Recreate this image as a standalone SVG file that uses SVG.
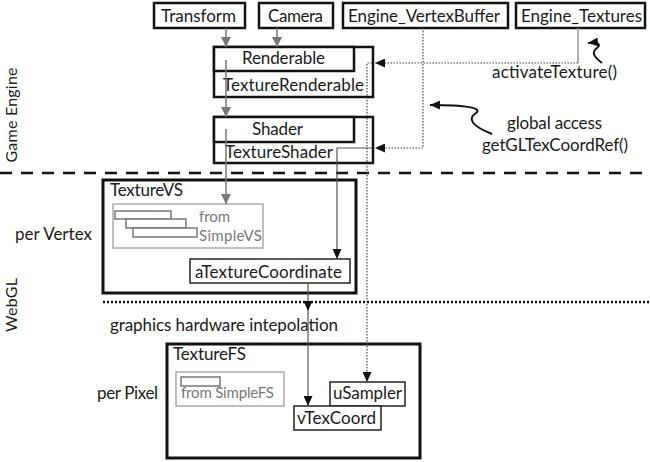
<svg xmlns="http://www.w3.org/2000/svg" width="650" height="462" viewBox="0 0 650 462">
<defs>
<style>
text{font-family:Lato,"Open Sans","Liberation Sans",sans-serif;font-size:17px;fill:#1a1a1a}
.g{fill:#777;font-size:15px}
.v{font-size:16px}
.box{fill:#fff;stroke:#111;stroke-width:2.5}
.thin{fill:#fff;stroke:#222;stroke-width:1.5}
.gbox{fill:none;stroke:#aaa;stroke-width:1.5}
.gsm{fill:#fff;stroke:#777;stroke-width:1.5}
.ga{fill:none;stroke:#777;stroke-width:1.5}
.dot{fill:none;stroke:#444;stroke-width:1.2;stroke-dasharray:1.5 1.5}
.sl{fill:none;stroke:#555;stroke-width:1.2}
.sq{fill:none;stroke:#111;stroke-width:2}
</style>
<marker id="ag" markerUnits="userSpaceOnUse" markerWidth="10" markerHeight="10" viewBox="0 0 10 10" refX="10" refY="5" orient="auto"><path d="M0 0L10 5L0 10z" fill="#777"/></marker>
<marker id="ab" markerUnits="userSpaceOnUse" markerWidth="10" markerHeight="9" viewBox="0 0 10 9" refX="10" refY="4.5" orient="auto"><path d="M0 0L10 4.5L0 9z" fill="#111"/></marker>
</defs>
<rect width="650" height="462" fill="#fff"/>

<g id="section-labels">
<text class="v" transform="translate(17,115) rotate(-90)" text-anchor="middle" textLength="95">Game Engine</text>
<text class="v" transform="translate(17,305) rotate(-90)" text-anchor="middle" textLength="54">WebGL</text>
<text x="15" y="240" textLength="77">per Vertex</text>
<text x="97" y="399" textLength="61">per Pixel</text>
<text x="110" y="331" textLength="228">graphics hardware intepolation</text>
<path d="M0 173H650" fill="none" stroke="#111" stroke-width="2.5" stroke-dasharray="12 9"/>
<path d="M103 302H650" fill="none" stroke="#111" stroke-width="2.5" stroke-dasharray="2 2"/>
</g>

<g id="transform"><rect class="box" x="154" y="3" width="91" height="25"/><text x="161" y="22" textLength="75">Transform</text></g>
<g id="camera"><rect class="box" x="259" y="3" width="74" height="25"/><text x="268" y="22" textLength="55">Camera</text></g>
<g id="engine-vertexbuffer"><rect class="box" x="343" y="3" width="165" height="25"/><text x="348" y="22" textLength="152">Engine_VertexBuffer</text></g>
<g id="engine-textures"><rect class="box" x="516" y="3" width="129" height="25"/><text x="521" y="22" textLength="121">Engine_Textures</text></g>

<g id="renderable">
<rect class="box" x="214" y="47" width="159" height="50"/>
<rect class="box" x="214" y="47" width="140" height="24"/>
<text x="242" y="64" textLength="83">Renderable</text>
<text x="223" y="91" textLength="141">TextureRenderable</text>
</g>

<g id="shader">
<rect class="box" x="214" y="117" width="159" height="46"/>
<rect class="box" x="214" y="117" width="140" height="25"/>
<text x="252" y="135" textLength="51">Shader</text>
<text x="225" y="158" textLength="108">TextureShader</text>
</g>

<g id="annotations">
<text x="492" y="78" textLength="125">activateTexture()</text>
<text x="507" y="129" textLength="95">global access</text>
<text x="482" y="151" textLength="146">getGLTexCoordRef()</text>
</g>

<g id="texturevs">
<rect x="103" y="180" width="253" height="113" fill="#fff" stroke="#111" stroke-width="3"/>
<text x="110" y="196" textLength="73">TextureVS</text>
<g id="simplevs">
<rect class="gbox" x="113" y="204" width="150" height="44"/>
<rect class="gsm" x="115" y="211" width="56" height="8"/>
<rect class="gsm" x="126" y="219" width="60" height="9"/>
<rect class="gsm" x="133" y="228" width="64" height="9"/>
<text class="g" x="199" y="222" textLength="31">from</text>
<text class="g" x="199" y="241" textLength="63">SimpleVS</text>
</g>
<g id="atexturecoordinate"><rect class="thin" x="190" y="259" width="160" height="24"/><text x="195" y="278" textLength="147">aTextureCoordinate</text></g>
</g>

<g id="texturefs">
<rect x="167" y="344" width="253" height="114" fill="#fff" stroke="#111" stroke-width="3"/>
<text x="173" y="360" textLength="73">TextureFS</text>
<g id="simplefs">
<rect class="gbox" x="176" y="372" width="108" height="34"/>
<rect class="gsm" x="181" y="377" width="39" height="9"/>
<text class="g" x="181" y="398" textLength="93">from SimpleFS</text>
</g>
<g id="usampler"><rect class="thin" x="330" y="382" width="75" height="24"/><text x="333" y="399" textLength="69">uSampler</text></g>
<g id="vtexcoord"><rect class="thin" x="294" y="406" width="87" height="24"/><text x="297" y="424" textLength="79">vTexCoord</text></g>
</g>

<g id="connectors">
<path class="ga" d="M226 28V47" marker-end="url(#ag)"/>
<path class="ga" d="M277 28V47" marker-end="url(#ag)"/>
<path class="ga" d="M226 60V117" marker-end="url(#ag)"/>
<path class="ga" d="M226 129V204" marker-end="url(#ag)"/>
<path d="M578 28V63" fill="none" stroke="#999" stroke-width="1.5"/>
<path class="dot" d="M578 63H375" marker-end="url(#ab)"/>
<path class="dot" d="M372 63H367V382" marker-end="url(#ab)"/>
<path class="dot" d="M423 28V148H375" marker-end="url(#ab)"/>
<path class="sl" d="M372 148H337V259" marker-end="url(#ab)"/>
<path class="sl" d="M308 283V311" marker-end="url(#ab)"/>
<path class="sl" d="M308 311V406" marker-end="url(#ab)"/>
<path class="sq" d="M602 63C594 57 591 52 597 48C602 44 597 42 588 43" marker-end="url(#ab)"/>
<path class="sq" d="M492 134C472 126 467 119 476 113C483 108 466 105 430 105" marker-end="url(#ab)"/>
</g>
</svg>
